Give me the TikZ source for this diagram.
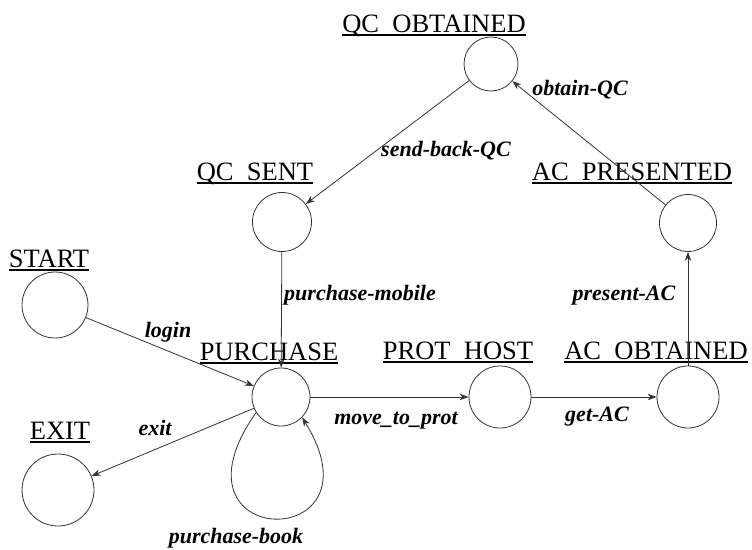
\documentclass[tikz,border=0pt]{standalone}
\usepackage{fontspec}
\setmainfont{Liberation Serif}
\usetikzlibrary{arrows.meta}
\newcommand{\ulabel}[1]{\setbox0\hbox{#1}\rlap{\rule[-4pt]{\wd0}{2pt}}\box0}
\tikzset{
  stplace/.style = {circle, draw=black!80, line width=0.8pt, inner sep=0pt},
  stname/.style  = {anchor=base, inner sep=0pt, font=\fontsize{26.5}{30}\selectfont},
  evname/.style  = {anchor=base, inner sep=0pt,
                    font=\fontsize{22}{26}\selectfont\bfseries\itshape},
  trans/.style   = {-{Stealth[length=9pt,width=6.5pt]}, line width=0.8pt, black!80},
}
\begin{document}
\begin{tikzpicture}[x=1pt, y=-1pt]
\useasboundingbox (0,0) rectangle (752,549);
\node[stplace, minimum size=54pt] (qcobt)    at (491,64)  {};
\node[stplace, minimum size=59pt] (qcsent)   at (282,222) {};
\node[stplace, minimum size=57pt] (acpres)   at (688,223) {};
\node[stplace, minimum size=66pt] (start)    at (55,305)  {};
\node[stplace, minimum size=58pt] (purchase) at (281,397) {};
\node[stplace, minimum size=62pt] (prothost) at (500,397) {};
\node[stplace, minimum size=62pt] (acobt)    at (688,397) {};
\node[stplace, minimum size=72pt] (exit)     at (58,490)  {};

\node[stname] (nqcobt)    at (434,32)  {\ulabel{QC~~OBTAINED}};
\node[stname] (nqcsent)   at (255,180) {\ulabel{QC~~SENT}};
\node[stname] (nacpres)   at (632,180) {\ulabel{AC~~PRESENTED}};
\node[stname] (nstart)    at (49,267)  {\ulabel{START}};
\node[stname] (npurchase) at (269,360) {\ulabel{PURCHASE}};
\node[stname] (nprothost) at (458,359) {\ulabel{PROT~~HOST}};
\node[stname] (nacobt)    at (656,359) {\ulabel{AC~~OBTAINED}};
\node[stname] (nexit)     at (60,439)  {\ulabel{EXIT}};

\draw[trans] (qcobt) -- (qcsent);
\draw[trans] (acpres) -- (qcobt);
\draw[trans] (qcsent) -- (purchase);
\draw[trans] (start) -- (purchase);
\draw[trans] (purchase) -- (exit);
\draw[trans] (purchase) -- (prothost);
\draw[trans] (prothost) -- (acobt);
\draw[trans] (acobt) -- (acpres);
\draw[trans] (purchase.212) .. controls +(-98,139) and +(85,137) .. (purchase.316);

\node[evname] (lsendback) at (446,156) {send-back-QC};
\node[evname] (lobtain)   at (580,95)  {obtain-QC};
\node[evname] (lpmobile)  at (360,300) {purchase-mobile};
\node[evname] (lpresent)  at (624,300) {present-AC};
\node[evname] (llogin)    at (168,337) {login};
\node[evname] (lexit)     at (155,435) {exit};
\node[evname] (lmove)     at (396,424) {move\_to\_prot};
\node[evname] (lgetac)    at (597,421) {get-AC};
\node[evname] (lpbook)    at (236,543) {purchase-book};
\end{tikzpicture}
\end{document}
